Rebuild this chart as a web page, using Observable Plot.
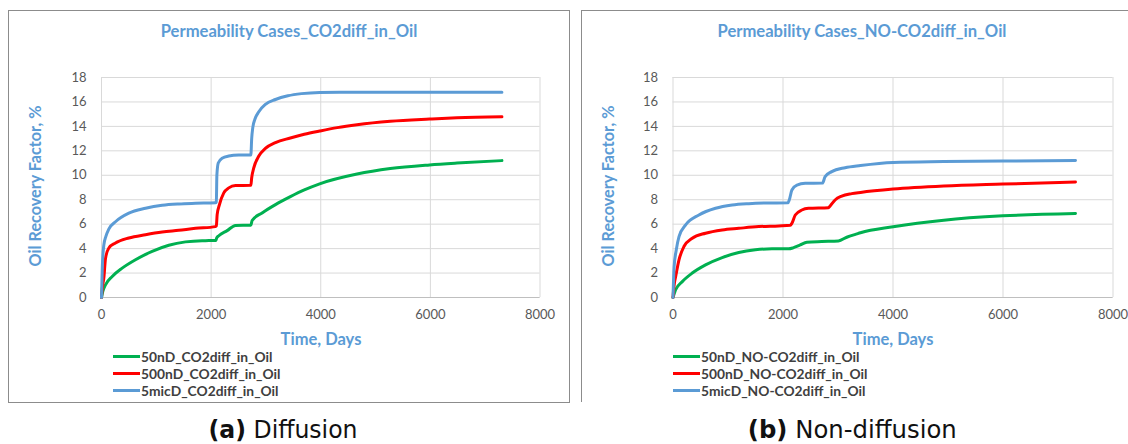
<!DOCTYPE html>
<html>
<head>
<meta charset="utf-8">
<script src="https://cdn.jsdelivr.net/npm/d3@7"></script>
<script src="https://cdn.jsdelivr.net/npm/@observablehq/plot@0.6"></script>
<style>
  html, body { margin: 0; padding: 0; background: #fff; }
  #page { position: relative; width: 1128px; height: 444px; overflow: hidden; font-family: Lato, "Open Sans", sans-serif; }
  .panel { position: absolute; top: 10px; width: 560px; height: 391px; border: 1px solid #8c8c8c; background: #fff; }
  #panelA { left: 8px; }
  #panelB { left: 581px; border-bottom: none; }
  .title { position: absolute; left: 0; right: 0; top: 10px; line-height: 20px; text-align: center; font-weight: 700; font-size: 16.6px; color: #5B9BD5; white-space: nowrap; }
  .plot { position: absolute; left: 0; top: 0; }
  .xtitle { position: absolute; top: 318px; line-height: 20px; transform: translateX(-50%); font-weight: 700; font-size: 16.5px; color: #5B9BD5; white-space: nowrap; }
  .ytitle { position: absolute; left: 26px; top: 175px; line-height: 20px; transform: translate(-50%, -50%) rotate(-90deg); font-weight: 700; font-size: 16.2px; color: #5B9BD5; white-space: nowrap; }
  .legend { position: absolute; top: 337px; }
  .legend .row { display: flex; align-items: center; height: 17px; }
  .legend .swatch { width: 27px; height: 3px; margin-right: 1px; }
  .legend .label { font-weight: 700; font-size: 13.8px; color: #404040; white-space: nowrap; }
  .caption { position: absolute; top: 414.5px; line-height: 30px; font-family: "DejaVu Sans", sans-serif; font-size: 25px; color: #111; white-space: nowrap; transform-origin: 50% 50%; }
  .caption b { font-weight: 700; }
</style>
</head>
<body>
<div id="page">
  <div class="panel" id="panelA">
    <div class="title">Permeability Cases_CO2diff_in_Oil</div>
    <div class="ytitle">Oil Recovery Factor, %</div>
    <div class="xtitle" style="left:312px">Time, Days</div>
    <div class="legend" style="left:104px"></div>
  </div>
  <div class="panel" id="panelB">
    <div class="title">Permeability Cases_NO-CO2diff_in_Oil</div>
    <div class="ytitle">Oil Recovery Factor, %</div>
    <div class="xtitle" style="left:311px">Time, Days</div>
    <div class="legend" style="left:91px"></div>
  </div>
  <div class="caption" data-cx="283" data-w="149"><b>(a)</b> Diffusion</div>
  <div class="caption" data-cx="852" data-w="209"><b>(b)</b> Non-diffusion</div>
</div>
<script>
// Axis ticks
const xTicks = [0, 2000, 4000, 6000, 8000];
const yTicks = [0, 2, 4, 6, 8, 10, 12, 14, 16, 18];

// Series names and colours
const diffNames = ["50nD_CO2diff_in_Oil", "500nD_CO2diff_in_Oil", "5micD_CO2diff_in_Oil"];
const noDiffNames = ["50nD_NO-CO2diff_in_Oil", "500nD_NO-CO2diff_in_Oil", "5micD_NO-CO2diff_in_Oil"];
const seriesColors = ["#00B050", "#FF0000", "#5B9BD5"];

// Oil recovery factor (%) vs time (days), CO2 diffusion in oil
const diff50nD = [[0,0],[24,0.5],[73,1.04],[195,1.72],[377,2.4],[620,3.09],[924,3.77],[1228,4.27],[1532,4.55],[1836,4.65],[2085,4.66],[2100,4.85],[2140,5.05],[2292,5.47],[2444,5.9],[2725,5.92],[2748,6.3],[2930,6.92],[3174,7.6],[3446,8.25],[3700,8.8],[3980,9.3],[4662,10.1],[5269,10.55],[5985,10.85],[6485,11.0],[7305,11.2]];
const diff500nD = [[0,0],[15,0.8],[43,1.6],[73,3.2],[134,4.05],[255,4.46],[499,4.87],[803,5.14],[1107,5.36],[1410,5.5],[1715,5.66],[2080,5.8],[2095,5.85],[2110,6.78],[2152,7.6],[2231,8.56],[2322,8.97],[2444,9.16],[2725,9.18],[2740,9.8],[2778,10.6],[2870,11.57],[2990,12.2],[3174,12.68],[3446,13.05],[3700,13.35],[3980,13.62],[4300,13.9],[4662,14.14],[5269,14.42],[5985,14.6],[6485,14.7],[7305,14.78]];
const diff5micD = [[0,0],[15,2.5],[43,4.3],[80,5.0],[133,5.6],[255,6.2],[499,6.9],[803,7.3],[1107,7.55],[1410,7.66],[1715,7.71],[2080,7.75],[2095,7.8],[2105,10.0],[2130,11.0],[2200,11.4],[2322,11.57],[2505,11.65],[2725,11.66],[2740,13.0],[2760,13.9],[2800,14.6],[2870,15.2],[2990,15.8],[3174,16.2],[3400,16.5],[3650,16.68],[3980,16.78],[4500,16.8],[5500,16.8],[7305,16.8]];

// Oil recovery factor (%) vs time (days), no CO2 diffusion in oil
const noDiff50nD = [[0,0],[48,0.63],[169,1.3],[350,2.0],[592,2.67],[894,3.27],[1196,3.68],[1498,3.9],[1800,3.98],[2102,3.98],[2193,4.08],[2313,4.3],[2434,4.52],[2706,4.58],[3008,4.63],[3159,4.93],[3340,5.2],[3409,5.3],[4003,5.79],[4924,6.33],[5996,6.68],[7318,6.87]];
const noDiff500nD = [[0,0],[20,1.0],[48,1.7],[109,3.08],[199,4.17],[350,4.85],[592,5.26],[894,5.53],[1196,5.66],[1558,5.8],[1921,5.86],[2132,5.91],[2162,6.07],[2223,6.75],[2343,7.16],[2464,7.3],[2826,7.35],[2857,7.49],[2947,7.98],[3068,8.3],[3250,8.5],[3409,8.6],[4003,8.87],[4924,9.12],[5996,9.28],[7318,9.45]];
const noDiff5micD = [[0,0],[20,2.5],[60,3.9],[109,4.98],[230,5.94],[471,6.75],[773,7.3],[1075,7.57],[1377,7.68],[1679,7.73],[2090,7.75],[2114,7.98],[2162,8.8],[2253,9.2],[2404,9.34],[2718,9.36],[2766,9.89],[2887,10.3],[3129,10.62],[3409,10.8],[4003,11.05],[4924,11.12],[5996,11.17],[7318,11.2]];

function toRows(names, seriesList) {
  return seriesList.flatMap((pts, i) => pts.map(([day, rf]) => ({series: names[i], day, rf})));
}

function recoveryChart(names, seriesList, marginLeft) {
  return Plot.plot({
    width: 560,
    height: 320,
    marginLeft,
    marginRight: 29.5,
    marginTop: 66,
    marginBottom: 34,
    style: {fontFamily: "Lato, 'Open Sans', sans-serif", fontSize: "13px", color: "#595959", background: "transparent", overflow: "visible"},
    x: {domain: [0, 8000]},
    y: {domain: [0, 18]},
    color: {domain: names, range: seriesColors},
    marks: [
      Plot.gridX(xTicks, {stroke: "#d9d9d9", strokeOpacity: 1}),
      Plot.gridY(yTicks, {stroke: "#d9d9d9", strokeOpacity: 1}),
      Plot.ruleY([0], {stroke: "#bfbfbf"}),
      Plot.axisX(xTicks, {tickSize: 0, tickPadding: 12, tickFormat: d3.format("d"), label: null, fill: "#595959"}),
      Plot.axisY(yTicks, {tickSize: 0, tickPadding: 15, label: null, fill: "#595959"}),
      Plot.line(toRows(names, seriesList), {
        x: "day", y: "rf", z: "series", stroke: "series",
        curve: "monotone-x", strokeWidth: 3, strokeLinejoin: "round", strokeLinecap: "round"
      })
    ]
  });
}

function fillLegend(panel, names) {
  const box = panel.querySelector(".legend");
  names.forEach((name, i) => {
    const row = document.createElement("div");
    row.className = "row";
    row.innerHTML = `<span class="swatch" style="background:${seriesColors[i]}"></span><span class="label">${name}</span>`;
    box.appendChild(row);
  });
}

const panelA = document.getElementById("panelA");
const panelB = document.getElementById("panelB");

const chartA = recoveryChart(diffNames, [diff50nD, diff500nD, diff5micD], 92);
chartA.classList.add("plot");
panelA.prepend(chartA);
fillLegend(panelA, diffNames);

const chartB = recoveryChart(noDiffNames, [noDiff50nD, noDiff500nD, noDiff5micD], 90.5);
chartB.classList.add("plot");
panelB.prepend(chartB);
fillLegend(panelB, noDiffNames);

// Sub-figure captions: narrow the face horizontally and centre each under its panel
document.querySelectorAll(".caption").forEach(el => {
  const w = el.getBoundingClientRect().width;
  const target = +el.dataset.w;
  el.style.left = (+el.dataset.cx - w / 2) + "px";
  el.style.transform = `scaleX(${target / w})`;
});
</script>
</body>
</html>
